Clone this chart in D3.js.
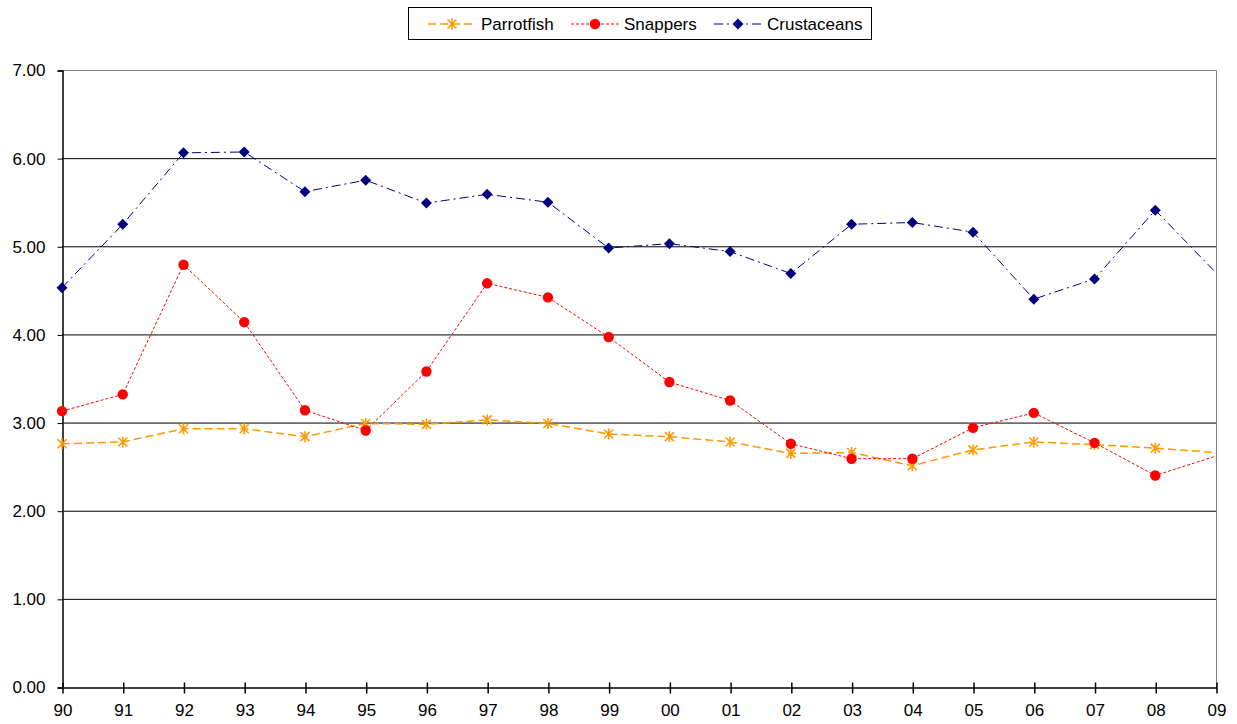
<!DOCTYPE html>
<html>
<head>
<meta charset="utf-8">
<script src="https://cdn.jsdelivr.net/npm/d3@7"></script>
<style>
  html, body { margin: 0; padding: 0; background: #fff; }
  svg { display: block; font-family: "Liberation Sans", Arial, sans-serif; }
</style>
</head>
<body>
<svg id="chart" width="1237" height="724"></svg>
<script>
// Year labels along the category axis
const years = ["90","91","92","93","94","95","96","97","98","99",
               "00","01","02","03","04","05","06","07","08","09"];

// Annual values per group
const parrotfish = [2.76, 2.78, 2.93, 2.93, 2.84, 2.99, 2.98, 3.03, 2.99, 2.87,
                    2.84, 2.78, 2.65, 2.66, 2.51, 2.69, 2.78, 2.75, 2.71, 2.66];
const snappers   = [3.13, 3.32, 4.79, 4.14, 3.14, 2.91, 3.58, 4.58, 4.42, 3.97,
                    3.46, 3.25, 2.76, 2.59, 2.59, 2.94, 3.11, 2.77, 2.40, 2.62];
const crustaceans = [4.53, 5.25, 6.06, 6.07, 5.62, 5.75, 5.49, 5.59, 5.50, 4.98,
                     5.03, 4.94, 4.69, 5.25, 5.27, 5.16, 4.40, 4.63, 5.41, 4.70];

const yTicks = [0, 1, 2, 3, 4, 5, 6, 7];

const series = [
  { name: "Parrotfish",  values: parrotfish,  color: "#FF9900", dash: "8,4",       width: 1.5, marker: "star" },
  { name: "Snappers",    values: snappers,    color: "#FF0000", dash: "3,2",       width: 1,   marker: "circle" },
  { name: "Crustaceans", values: crustaceans, color: "#000080", dash: "9,4,2,4",   width: 1,   marker: "diamond" }
];

const FONT = 17;
const svg = d3.select("#chart");
const plotLeft = 62, plotRight = 1216, plotTop = 70, plotBottom = 687;

const x = d3.scalePoint().domain(years).range([plotLeft, plotRight]);
const y = d3.scaleLinear().domain([0, 7]).range([plotBottom, plotTop]);

// Horizontal gridlines
svg.append("g")
  .selectAll("line")
  .data(yTicks.filter(d => d > 0 && d < 7))
  .join("line")
  .attr("x1", plotLeft).attr("x2", plotRight)
  .attr("y1", d => y(d) + 0.5).attr("y2", d => y(d) + 0.5)
  .attr("stroke", "#000").attr("stroke-width", 1);

// Plot area border (top and right)
svg.append("path")
  .attr("d", `M${plotLeft},${y(7) + 0.5}H${plotRight + 0.5}V${plotBottom}`)
  .attr("fill", "none").attr("stroke", "#808080").attr("stroke-width", 1);

// Y axis
const yAxis = d3.axisLeft(y)
  .tickValues(yTicks)
  .tickFormat(d3.format(".2f"))
  .tickSize(5)
  .tickPadding(12);
const gy = svg.append("g").attr("transform", `translate(${plotLeft + 0.5},0.5)`).call(yAxis);
gy.select(".domain").attr("stroke", "#000").attr("stroke-width", 1.5);
gy.selectAll(".tick line").attr("stroke", "#000");
gy.selectAll(".tick text")
  .attr("font-size", FONT).attr("fill", "#000")
  .attr("font-family", "Liberation Sans, Arial, sans-serif");

// X axis with ticks crossing the baseline
const xAxis = d3.axisBottom(x).tickSizeInner(6).tickSizeOuter(0).tickPadding(10);
const gx = svg.append("g").attr("transform", `translate(0.5,${plotBottom + 0.5})`).call(xAxis);
gx.select(".domain").attr("stroke", "#000").attr("stroke-width", 1.5);
gx.selectAll(".tick line").attr("y1", -5).attr("stroke", "#000").attr("stroke-width", 1.5);
gx.selectAll(".tick text")
  .attr("font-size", FONT).attr("fill", "#000")
  .attr("font-family", "Liberation Sans, Arial, sans-serif");

// Marker drawing helpers
function drawMarker(g, type, color) {
  if (type === "circle") {
    g.append("circle").attr("r", 5.2).attr("fill", color);
  } else if (type === "diamond") {
    g.append("path").attr("d", "M0,-5.5L5.5,0L0,5.5L-5.5,0Z").attr("fill", color);
  } else {
    g.append("path")
      .attr("d", "M-4.5,-4.5L4.5,4.5M-4.5,4.5L4.5,-4.5M0,-5.5V5.5")
      .attr("stroke", color).attr("stroke-width", 1.6).attr("fill", "none");
  }
}

const line = d3.line().x((d, i) => x(years[i])).y(d => y(d));

series.forEach(s => {
  svg.append("path")
    .datum(s.values)
    .attr("d", line)
    .attr("fill", "none")
    .attr("stroke", s.color)
    .attr("stroke-width", s.width)
    .attr("stroke-dasharray", s.dash);

  // Markers sit on every year except the last one at the plot edge
  svg.append("g")
    .selectAll("g")
    .data(s.values.slice(0, -1))
    .join("g")
    .attr("transform", (d, i) => `translate(${x(years[i])},${y(d)})`)
    .each(function () { drawMarker(d3.select(this), s.marker, s.color); });
});

// Legend
const legend = svg.append("g");
legend.append("rect")
  .attr("x", 408.5).attr("y", 7.5).attr("width", 463).attr("height", 32)
  .attr("fill", "#fff").attr("stroke", "#000").attr("stroke-width", 1);

const legendX = [428, 571, 714];
series.forEach((s, i) => {
  const g = legend.append("g").attr("transform", `translate(${legendX[i]},24)`);
  g.append("line").attr("x1", 0).attr("x2", 48).attr("y1", 0).attr("y2", 0)
    .attr("stroke", s.color).attr("stroke-width", s.width).attr("stroke-dasharray", s.dash);
  const m = g.append("g").attr("transform", "translate(24,0)");
  drawMarker(m, s.marker, s.color);
  g.append("text").attr("x", 53).attr("y", 0).attr("dy", "0.35em")
    .attr("font-size", FONT).attr("fill", "#000").text(s.name);
});
</script>
</body>
</html>
